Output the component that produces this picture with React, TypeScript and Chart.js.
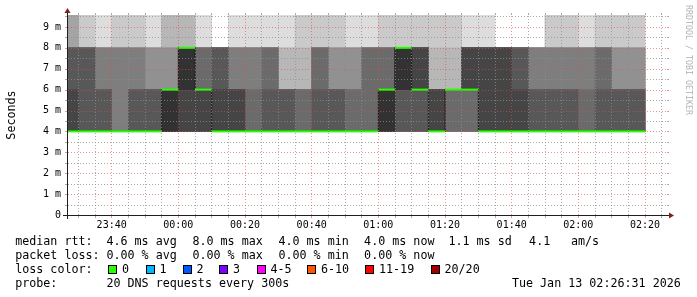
import React, { useEffect, useRef } from 'react';
import { Chart, registerables } from 'chart.js';

Chart.register(...registerables);

const MONO = "'DejaVu Sans Mono', monospace";

// ---------- time axis (minutes since 2026-01-12 00:00) ----------
const graphStartMin = 1406.6; // ~23:26:36
const graphEndMin = graphStartMin + 180; // ~02:26:36
const firstStepStartMin = 1405; // first 5-minute step: 23:25 - 23:30
const stepMin = 5;

// x grid / labels
const xGridValues: number[] = [];
for (let v = 1410; v <= 1585; v += 5) xGridValues.push(v);
const xLabelValues = [1420, 1440, 1460, 1480, 1500, 1520, 1540, 1560, 1580];
const xTickLabels = ['23:40', '00:00', '00:20', '00:40', '01:00', '01:20', '01:40', '02:00', '02:20'];

// y grid / labels (milliseconds)
const yMaxMs = 9.57;
const yGridValues: number[] = [];
for (let v = 0; v <= 9.5; v += 0.5) yGridValues.push(v);
const yLabelValues = [0, 1, 2, 3, 4, 5, 6, 7, 8, 9];
const yTickLabels = ['0', '1 m', '2 m', '3 m', '4 m', '5 m', '6 m', '7 m', '8 m', '9 m'];

// ---------- data: 20 DNS pings per 5-minute step, counted per rtt level ----------
const pingLevelsMs = [4, 6, 8, 10];
const count4ms = [11, 12, 12, 14, 12, 12, 10, 9, 9, 11, 11, 13, 12, 12, 13, 12, 12, 13, 13, 10, 8, 8, 11, 7, 7, 11, 11, 11, 12, 12, 12, 13, 12, 12, 12];
const count6ms = [1, 0, 2, 0, 2, 3, 5, 1, 4, 1, 3, 1, 1, 5, 4, 1, 3, 2, 0, 3, 2, 3, 6, 10, 4, 0, 0, 1, 2, 2, 2, 1, 1, 3, 3];
const count8ms = [4, 6, 5, 4, 4, 4, 2, 7, 6, 8, 5, 5, 6, 2, 1, 5, 3, 4, 6, 5, 8, 7, 1, 1, 8, 8, 9, 8, 6, 4, 4, 5, 5, 3, 3];
const count10ms = [4, 2, 1, 2, 2, 1, 3, 3, 1, 0, 1, 1, 1, 1, 2, 2, 2, 1, 1, 2, 2, 2, 2, 2, 1, 1, 0, 0, 0, 2, 2, 1, 2, 2, 2];
const lostPings = [0, 0, 0, 0, 0, 0, 0, 0, 0, 0, 0, 0, 0, 0, 0, 0, 0, 0, 0, 0, 0, 0, 0, 0, 0, 0, 0, 0, 0, 0, 0, 0, 0, 0, 0];

// loss legend
const lossLegendLabels = ['0', '1', '2', '3', '4-5', '6-10', '11-19', '20/20'];
const lossLegendColors = ['#26ff00', '#00b8ff', '#0059ff', '#7e00ff', '#ff00ff', '#ff5500', '#ff0000', '#a10000'];
const lossLegendMax = [0, 1, 2, 3, 5, 10, 19, 20];

// text statistics
const medianRttStats = ['4.6 ms avg', '8.0 ms max', '4.0 ms min', '4.0 ms now', '1.1 ms sd', '4.1', 'am/s'];
const packetLossStats = ['0.00 % avg', '0.00 % max', '0.00 % min', '0.00 % now'];
const probeText = '20 DNS requests every 300s';
const dateText = 'Tue Jan 13 02:26:31 2026';

const MAJOR_GRID = 'rgba(222,79,79,0.6)';
const MINOR_GRID = 'rgba(143,143,143,0.75)';

function lossColor(lost: number) {
  for (let i = 0; i < lossLegendMax.length; i++) if (lost <= lossLegendMax[i]) return lossLegendColors[i];
  return lossLegendColors[lossLegendColors.length - 1];
}

function layerGray(k: number) {
  const v = Math.floor((190 / 10) * (10 - k)) + 50;
  return `rgb(${v},${v},${v})`;
}

function drawGrid(chart: any) {
  const { ctx, chartArea: a, scales } = chart;
  const xs = scales.x;
  const ys = scales.y;
  const left = Math.round(a.left);
  const right = Math.round(a.right);
  const top = Math.round(a.top);
  const bottom = Math.round(a.bottom);
  ctx.save();
  for (const v of yGridValues) {
    if (v === 0) continue;
    const py = Math.round(ys.getPixelForValue(v));
    ctx.fillStyle = Number.isInteger(v) ? MAJOR_GRID : MINOR_GRID;
    for (let px = left + 1; px <= right; px += 3) ctx.fillRect(px, py, 1, 1);
    ctx.fillRect(left - 2, py, 2, 1);
    ctx.fillRect(right, py, 2, 1);
  }
  for (const v of xGridValues) {
    const px = Math.floor(xs.getPixelForValue(v));
    ctx.fillStyle = v % 20 === 0 ? MAJOR_GRID : MINOR_GRID;
    for (let py = bottom - 1; py >= top; py -= 3) ctx.fillRect(px, py, 1, 1);
    ctx.fillRect(px, top - 2, 1, 2);
    ctx.fillRect(px, bottom + 1, 1, 2);
  }
  ctx.restore();
}

// rrdtool-like dotted grid (over the smoke, under the median), axes and arrows
const rrdFramePlugin = {
  id: 'rrdFrame',
  beforeDatasetDraw(chart: any, args: any) {
    if (args.index === 0) drawGrid(chart);
  },
  afterDatasetsDraw(chart: any) {
    const { ctx, chartArea: a } = chart;
    const left = Math.round(a.left);
    const right = Math.round(a.right);
    const top = Math.round(a.top);
    const bottom = Math.round(a.bottom);
    ctx.save();
    ctx.fillStyle = '#1f1f1f';
    ctx.fillRect(left - 4, bottom, right - left + 8, 1);
    ctx.fillRect(left, top - 4, 1, bottom - top + 8);
    ctx.fillStyle = '#801f1f';
    const y0 = bottom + 0.5;
    const x0 = left + 0.5;
    ctx.beginPath();
    ctx.moveTo(right + 2, y0 - 3);
    ctx.lineTo(right + 2, y0 + 3);
    ctx.lineTo(right + 7, y0);
    ctx.closePath();
    ctx.fill();
    ctx.beginPath();
    ctx.moveTo(x0 - 3, top - 2);
    ctx.lineTo(x0 + 3, top - 2);
    ctx.lineTo(x0, top - 7);
    ctx.closePath();
    ctx.fill();
    ctx.restore();
  },
};

export default function App() {
  const ref = useRef<HTMLCanvasElement | null>(null);

  useEffect(() => {
    const canvas = ref.current;
    if (!canvas) return;

    // sorted pings for every step
    const pings = count4ms.map((_, i) => {
      const counts = [count4ms[i], count6ms[i], count8ms[i], count10ms[i]];
      const list: number[] = [];
      counts.forEach((c, j) => {
        for (let n = 0; n < c; n++) list.push(pingLevelsMs[j]);
      });
      return list.sort((p, q) => p - q);
    });
    const stepStart = pings.map((_, i) => firstStepStartMin + i * stepMin);
    const stepCenter = stepStart.map((s) => s + stepMin / 2);
    const medians = pings.map((p) => p[Math.floor(p.length / 2)]);

    const datasets: any[] = [];

    // green (loss coloured) median segments
    const greenData: any[] = [];
    medians.forEach((m, i) => {
      greenData.push({ x: stepStart[i], y: m });
      greenData.push({ x: stepStart[i] + stepMin, y: m });
      greenData.push({ x: stepStart[i] + stepMin, y: null });
    });
    datasets.push({
      type: 'line',
      data: greenData,
      borderColor: lossColor(0),
      segment: { borderColor: (c: any) => lossColor(lostPings[Math.floor(c.p0DataIndex / 3)] ?? 0) },
      borderWidth: 2,
      pointRadius: 0,
      spanGaps: false,
      fill: false,
      order: 0,
    });

    // dark median step line
    const medData = medians.map((m, i) => ({ x: stepStart[i], y: m }));
    medData.push({ x: stepStart[stepStart.length - 1] + stepMin, y: medians[medians.length - 1] });
    datasets.push({
      type: 'line',
      data: medData,
      borderColor: '#202020',
      borderWidth: 1,
      pointRadius: 0,
      stepped: 'before',
      fill: false,
      order: 1,
    });

    // smoke layers
    for (let k = 1; k <= 10; k++) {
      datasets.push({
        type: 'bar',
        data: pings.map((p, i) => {
          const lo = p[k - 1];
          const hi = p[p.length - k];
          return { x: stepCenter[i], y: lo < hi ? [lo, hi] : null };
        }),
        backgroundColor: layerGray(k),
        borderWidth: 0,
        barPercentage: 1,
        categoryPercentage: 1,
        grouped: false,
        order: 20 - k,
      });
    }

    const chart = new Chart(canvas, {
      type: 'bar',
      data: { datasets },
      options: {
        animation: false,
        responsive: false,
        maintainAspectRatio: false,
        devicePixelRatio: 1,
        events: [],
        layout: { padding: { top: 15, right: 30, bottom: 0, left: 0 } },
        plugins: {
          legend: { display: false },
          tooltip: { enabled: false },
          title: { display: false },
        },
        scales: {
          x: {
            type: 'linear',
            min: graphStartMin,
            max: graphEndMin,
            bounds: 'data',
            offset: false,
            afterBuildTicks: (s: any) => {
              s.ticks = xGridValues.map((value) => ({ value }));
            },
            afterFit: (s: any) => {
              s.height = 82;
            },
            ticks: {
              autoSkip: false,
              maxRotation: 0,
              minRotation: 0,
              padding: 4.5,
              color: '#000',
              font: { family: MONO, size: 10 },
              callback: (v: any) => {
                const i = xLabelValues.indexOf(Number(v));
                return i >= 0 ? xTickLabels[i] : '';
              },
            },
            grid: { display: false, drawTicks: false, offset: false },
            border: { display: false },
          },
          y: {
            type: 'linear',
            min: 0,
            max: yMaxMs,
            bounds: 'data',
            afterBuildTicks: (s: any) => {
              s.ticks = yGridValues.map((value) => ({ value }));
            },
            afterFit: (s: any) => {
              s.width = 67;
            },
            ticks: {
              padding: 6,
              color: '#000',
              font: { family: MONO, size: 10 },
              callback: (v: any) => {
                const i = yLabelValues.indexOf(Number(v));
                return i >= 0 ? yTickLabels[i] : '';
              },
            },
            title: {
              display: true,
              text: 'Seconds',
              color: '#000',
              font: { family: MONO, size: 11.7, lineHeight: 1.2 },
              padding: { top: 4.5, bottom: 0 },
            },
            grid: { display: false, drawTicks: false },
            border: { display: false },
          },
        },
      } as any,
      plugins: [rrdFramePlugin],
    });

    return () => chart.destroy();
  }, []);

  const textStyle: React.CSSProperties = {
    position: 'absolute',
    fontFamily: MONO,
    fontSize: '11.7px',
    lineHeight: '14px',
    color: '#000',
    whiteSpace: 'pre',
  };
  const statX = [106.4, 192.4, 278.4, 364.1, 448.4, 529.1, 570.9];
  const lineTop = [234, 248, 261.7, 275.7];
  const boxX = [108, 145.5, 182.5, 219, 256.5, 307, 365, 430.5];

  return (
    <div
      style={{
        position: 'absolute',
        left: 0,
        top: 0,
        width: 697,
        height: 297,
        background: '#fff',
        overflow: 'hidden',
      }}
    >
      <canvas
        ref={ref}
        width={697}
        height={297}
        style={{ position: 'absolute', left: 0, top: 0, width: 697, height: 297 }}
      />
      <div
        style={{
          position: 'absolute',
          left: 692.5,
          top: 5,
          transform: 'rotate(90deg)',
          transformOrigin: '0 0',
          fontFamily: MONO,
          fontSize: '8.3px',
          lineHeight: '8.3px',
          color: '#b4b4b4',
          whiteSpace: 'pre',
        }}
      >
        RRDTOOL / TOBI OETIKER
      </div>

      <div style={{ ...textStyle, left: 15.2, top: lineTop[0] }}>median rtt:</div>
      {medianRttStats.map((t, i) => (
        <div key={'m' + i} style={{ ...textStyle, left: statX[i], top: lineTop[0] }}>
          {t}
        </div>
      ))}

      <div style={{ ...textStyle, left: 15.2, top: lineTop[1] }}>packet loss:</div>
      {packetLossStats.map((t, i) => (
        <div key={'p' + i} style={{ ...textStyle, left: statX[i], top: lineTop[1] }}>
          {t}
        </div>
      ))}

      <div style={{ ...textStyle, left: 15.2, top: lineTop[2] }}>loss color:</div>
      {lossLegendLabels.map((t, i) => (
        <React.Fragment key={'l' + i}>
          <div
            style={{
              position: 'absolute',
              left: boxX[i],
              top: 265,
              width: 7,
              height: 7,
              background: lossLegendColors[i],
              border: '1px solid #000',
            }}
          />
          <div style={{ ...textStyle, left: boxX[i] + 14, top: lineTop[2] }}>{t}</div>
        </React.Fragment>
      ))}

      <div style={{ ...textStyle, left: 15.2, top: lineTop[3] }}>probe:</div>
      <div style={{ ...textStyle, left: statX[0], top: lineTop[3] }}>{probeText}</div>
      <div style={{ ...textStyle, right: 16.2, top: lineTop[3], textAlign: 'right' }}>{dateText}</div>
    </div>
  );
}
